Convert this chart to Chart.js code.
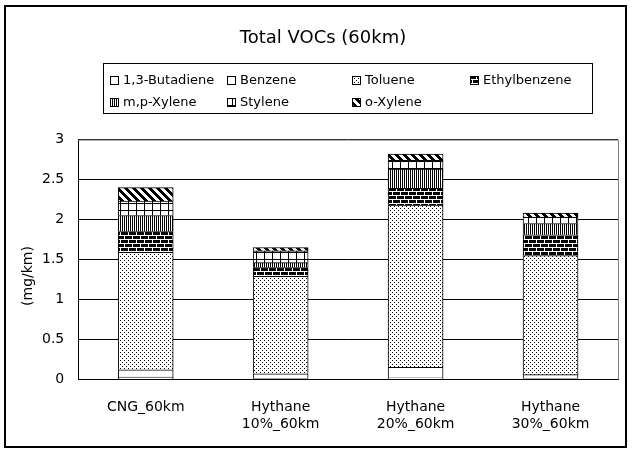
<!DOCTYPE html>
<html>
<head>
<meta charset="utf-8">
<script src="https://cdn.jsdelivr.net/npm/chart.js@4"></script>
<style>
  body { margin: 0; background: #fff; }
  #wrap { width: 633px; height: 452px; }
</style>
</head>
<body>
<div id="wrap"><canvas id="vocChart" width="633" height="452"></canvas></div>
<script>
// categories and series values (mg/km)
const categories = [['CNG_60km'], ['Hythane', '10%_60km'], ['Hythane', '20%_60km'], ['Hythane', '30%_60km']];
const seriesNames = ['1,3-Butadiene', 'Benzene', 'Toluene', 'Ethylbenzene', 'm,p-Xylene', 'Stylene', 'o-Xylene'];
const butadiene = [0.03, 0.01, 0.02, 0.01];
const benzene = [0.09, 0.06, 0.13, 0.05];
const toluene = [1.47, 1.22, 2.03, 1.49];
const ethylbenzene = [0.26, 0.11, 0.21, 0.26];
const mpXylene = [0.20, 0.06, 0.24, 0.14];
const stylene = [0.18, 0.15, 0.11, 0.08];
const oXylene = [0.17, 0.04, 0.08, 0.05];
const yTicks = [0, 0.5, 1, 1.5, 2, 2.5, 3];

const FONT = 'DejaVu Sans';

// hatch patterns, like the old excel fills
function makePattern(w, h, draw) {
    const c = document.createElement('canvas');
    c.width = w; c.height = h;
    const g = c.getContext('2d');
    g.fillStyle = '#fff';
    g.fillRect(0, 0, w, h);
    g.fillStyle = '#000';
    draw(g);
    return c.getContext('2d').createPattern(c, 'repeat');
}

const plain = '#fff';
const dots = makePattern(4, 4, g => {
    g.fillRect(0, 0, 1, 1);
    g.fillRect(2, 2, 1, 1);
});
const bricks = makePattern(8, 8, g => {
    g.fillRect(0, 0, 8, 8);
    g.fillStyle = '#fff';
    g.fillRect(0, 3, 8, 1);
    g.fillRect(0, 7, 8, 1);
    g.fillRect(0, 0, 1, 3);
    g.fillRect(4, 4, 1, 3);
});
const vlines = makePattern(2, 1, g => {
    g.fillRect(0, 0, 1, 1);
});
const grid = makePattern(8, 7, g => {
    g.fillRect(0, 0, 8, 1);
    g.fillRect(0, 0, 1, 7);
});
const diag = makePattern(8, 8, g => {
    for (let y = 0; y < 8; y++) {
        for (let k = 0; k < 4; k++) {
            g.fillRect((y + k) % 8, y, 1, 1);
        }
    }
});

const fills = [plain, plain, dots, bricks, vlines, grid, diag];
const values = [butadiene, benzene, toluene, ethylbenzene, mpXylene, stylene, oXylene];

const datasets = seriesNames.map((name, i) => ({
    label: name,
    data: values[i],
    backgroundColor: fills[i],
    borderColor: '#000',
    borderWidth: 1,
    barThickness: 55
}));

// frame, plot border, y title and the boxed legend
const decorations = {
    id: 'decorations',
    afterDraw(chart) {
        const ctx = chart.ctx;
        const a = chart.chartArea;
        ctx.save();
        ctx.strokeStyle = '#808080';
        ctx.lineWidth = 1;
        ctx.beginPath();
        ctx.moveTo(a.left, a.top + 0.5);
        ctx.lineTo(a.right + 0.5, a.top + 0.5);
        ctx.lineTo(a.right + 0.5, a.bottom);
        ctx.stroke();

        ctx.strokeStyle = '#000';
        ctx.lineWidth = 2;
        ctx.strokeRect(5, 6, 621, 441);

        // y axis title
        ctx.save();
        ctx.translate(28, 276);
        ctx.rotate(-Math.PI / 2);
        ctx.font = '14px ' + FONT;
        ctx.fillStyle = '#000';
        ctx.textAlign = 'center';
        ctx.textBaseline = 'middle';
        ctx.fillText('(mg/km)', 0, 0);
        ctx.restore();

        ctx.lineWidth = 1;
        ctx.strokeRect(103.5, 63.5, 489, 50);
        const colX = [110, 227, 352, 470];
        const rowY = [81, 103];
        ctx.font = '13px ' + FONT;
        ctx.textBaseline = 'middle';
        seriesNames.forEach((name, i) => {
            const x = colX[i % 4];
            const y = rowY[Math.floor(i / 4)];
            ctx.fillStyle = fills[i];
            ctx.fillRect(x, y - 5, 9, 9);
            ctx.strokeStyle = '#000';
            ctx.strokeRect(x + 0.5, y - 4.5, 8, 8);
            ctx.fillStyle = '#000';
            ctx.fillText(name, x + 13, y);
        });
        ctx.restore();
    }
};

new Chart(document.getElementById('vocChart'), {
    type: 'bar',
    data: { labels: categories, datasets },
    options: {
        responsive: false,
        animation: false,
        layout: { padding: { top: 8, left: 28, right: 15, bottom: 7 } },
        plugins: {
            legend: { display: false },
            tooltip: { enabled: false },
            title: {
                display: true,
                text: 'Total VOCs (60km)',
                color: '#000',
                font: { family: FONT, size: 18, weight: 'normal' },
                padding: { top: 20, bottom: 90 }
            }
        },
        scales: {
            x: {
                stacked: true,
                grid: { display: false },
                border: { color: '#000', width: 1 },
                ticks: { color: '#000', font: { family: FONT, size: 14 }, padding: 12, maxRotation: 0 }
            },
            y: {
                stacked: true,
                min: 0,
                max: 3,
                afterBuildTicks: axis => { axis.ticks = yTicks.map(v => ({ value: v })); },
                grid: { color: '#000', drawTicks: false },
                border: { color: '#000', width: 1 },
                ticks: {
                    color: '#000',
                    font: { family: FONT, size: 14 },
                    padding: 14,
                    callback: v => String(v)
                }
            }
        }
    },
    plugins: [decorations]
});
</script>
</body>
</html>
